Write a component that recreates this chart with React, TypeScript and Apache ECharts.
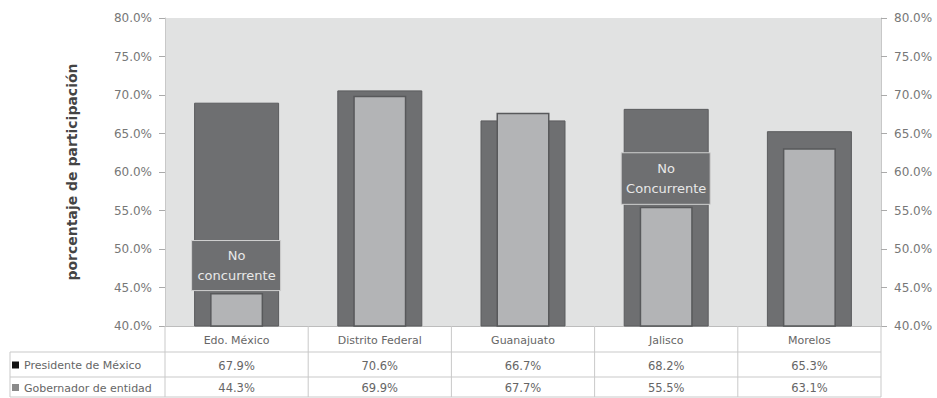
import React, { useEffect, useRef } from "react";
import * as echarts from "echarts";

const categories = ["Edo. México", "Distrito Federal", "Guanajuato", "Jalisco", "Morelos"];
const seriesNames = ["Presidente de México", "Gobernador de entidad"];
// bar heights as drawn
const presidenteBars = [69.0, 70.6, 66.7, 68.2, 65.3];
const gobernadorBars = [44.3, 69.9, 67.7, 55.5, 63.1];
// values printed in the data table
const presidenteTable = [67.9, 70.6, 66.7, 68.2, 65.3];
const gobernadorTable = [44.3, 69.9, 67.7, 55.5, 63.1];
const yMin = 40;
const yMax = 80;
const yStep = 5;
const annotations = [
  { category: "Edo. México", top: 51.1, bottom: 44.6, lines: ["No", "concurrente"] },
  { category: "Jalisco", top: 62.5, bottom: 55.8, lines: ["No", "Concurrente"] },
];

const FONT = "DejaVu Sans";
const PRES_COLOR = "#6e6f71";
const GOB_COLOR = "#b3b4b6";
const LINE_COLOR = "#c9c9c9";
const TEXT_COLOR = "#666";

export default function App() {
  const ref = useRef<HTMLDivElement>(null);

  useEffect(() => {
    if (!ref.current) return;
    const chart = echarts.init(ref.current, null, { renderer: "svg" });
    const pct = (v: number) => v.toFixed(1) + "%";
    const yAxisBase = {
      type: "value",
      min: yMin,
      max: yMax,
      interval: yStep,
      splitLine: { show: false },
      axisLine: { show: true, lineStyle: { color: "#c8c8c8" } },
      axisTick: { show: true, length: 6, lineStyle: { color: "#aaa" } },
      axisLabel: {
        formatter: (v: number) => pct(v),
        color: "#777",
        fontFamily: FONT,
        fontSize: 12,
        margin: 13,
      },
    };
    const xBase = {
      type: "category",
      data: categories,
      axisTick: { show: false },
      axisLabel: { show: false },
    };
    chart.setOption({
      animation: false,
      grid: {
        left: 165,
        right: 56,
        top: 18,
        bottom: 72,
        show: true,
        backgroundColor: "#e1e2e2",
        borderWidth: 0,
      },
      xAxis: [
        { ...xBase, axisLine: { show: true, lineStyle: { color: "#bdbdbd" } } },
        { ...xBase, position: "bottom", axisLine: { show: false } },
      ],
      yAxis: [
        {
          ...yAxisBase,
          position: "left",
          name: "porcentaje de participación",
          nameLocation: "middle",
          nameRotate: 90,
          nameGap: 86,
          nameTextStyle: { color: "#444", fontFamily: FONT, fontSize: 14, fontWeight: "bold" },
        },
        { ...yAxisBase, position: "right" },
      ],
      series: [
        {
          name: seriesNames[0],
          type: "bar",
          xAxisIndex: 0,
          yAxisIndex: 0,
          barWidth: 85,
          data: presidenteBars,
          itemStyle: { color: PRES_COLOR, borderColor: "#5b5c5e", borderWidth: 1 },
          z: 2,
        },
        {
          name: seriesNames[1],
          type: "bar",
          xAxisIndex: 1,
          yAxisIndex: 0,
          barWidth: 53,
          data: gobernadorBars,
          itemStyle: { color: GOB_COLOR, borderColor: "#58595b", borderWidth: 1.5 },
          z: 3,
        },
      ],
    });

    const xc = categories.map((c) => chart.convertToPixel({ xAxisIndex: 0 }, c) as number);
    const band = xc[1] - xc[0];
    const left = xc[0] - band / 2;
    const right = xc[xc.length - 1] + band / 2;
    const yB = chart.convertToPixel({ yAxisIndex: 0 }, yMin) as number;
    const r1 = yB + 26;
    const r2 = yB + 51;
    const r3 = yB + 71;
    const legendLeft = 10;

    const els: any[] = [];
    const line = (x1: number, y1: number, x2: number, y2: number) =>
      els.push({
        type: "line",
        shape: { x1, y1, x2, y2 },
        style: { stroke: LINE_COLOR, lineWidth: 1 },
        silent: true,
        z: 10,
      });
    const text = (t: string, x: number, y: number, align: string, size = 11, fill = TEXT_COLOR) =>
      els.push({
        type: "text",
        style: { text: t, x, y, align, verticalAlign: "middle", fill, fontFamily: FONT, fontSize: size },
        silent: true,
        z: 12,
      });

    [r1, r2, r3].forEach((y) => line(legendLeft, y, right, y));
    for (let i = 0; i <= categories.length; i++) {
      const x = left + i * band;
      line(x, yB, x, r3);
    }
    line(legendLeft, r1, legendLeft, r3);

    categories.forEach((c, i) => {
      text(c, xc[i], (yB + r1) / 2 + 1, "center", 11);
      text(pct(presidenteTable[i]), xc[i], (r1 + r2) / 2 + 1, "center", 11.5);
      text(pct(gobernadorTable[i]), xc[i], (r2 + r3) / 2 + 1, "center", 11.5);
    });
    const keys = [
      { name: seriesNames[0], color: "#111", y: (r1 + r2) / 2 },
      { name: seriesNames[1], color: "#8a8a8a", y: (r2 + r3) / 2 },
    ];
    keys.forEach((k) => {
      els.push({
        type: "rect",
        shape: { x: 12, y: k.y - 3, width: 7, height: 7 },
        style: { fill: k.color },
        silent: true,
        z: 12,
      });
      text(k.name, 24, k.y + 1, "left", 11);
    });

    annotations.forEach((a) => {
      const cx = chart.convertToPixel({ xAxisIndex: 0 }, a.category) as number;
      const yt = chart.convertToPixel({ yAxisIndex: 0 }, a.top) as number;
      const yb = chart.convertToPixel({ yAxisIndex: 0 }, a.bottom) as number;
      els.push({
        type: "rect",
        shape: { x: cx - 45, y: yt, width: 89, height: yb - yt },
        style: { fill: PRES_COLOR, stroke: "#d0d0d0", lineWidth: 1 },
        silent: true,
        z: 20,
      });
      const mid = (yt + yb) / 2;
      a.lines.forEach((t, j) => {
        els.push({
          type: "text",
          style: {
            text: t,
            x: cx,
            y: mid + (j - (a.lines.length - 1) / 2) * 20,
            align: "center",
            verticalAlign: "middle",
            fill: "#e8e8e8",
            fontFamily: FONT,
            fontSize: 13,
          },
          silent: true,
          z: 21,
        });
      });
    });

    chart.setOption({ graphic: { elements: els } });

    return () => chart.dispose();
  }, []);

  return (
    <div
      ref={ref}
      style={{ position: "fixed", left: 0, top: 0, width: 937, height: 398, background: "#fff" }}
    />
  );
}
